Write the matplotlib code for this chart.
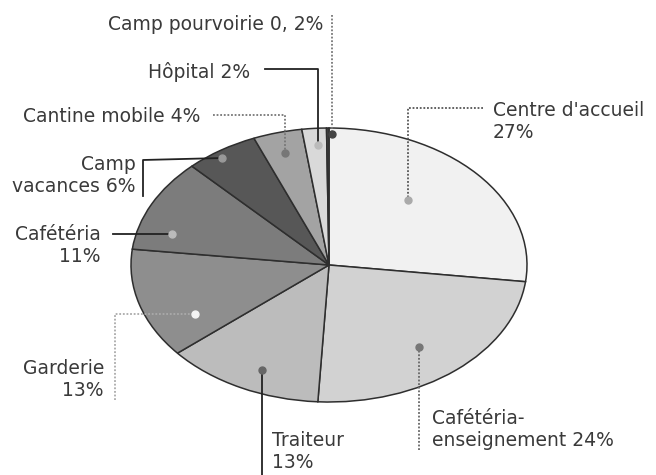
import matplotlib.pyplot as plt

labels = ["Centre d'accueil", "Cafétéria-enseignement", "Traiteur", "Garderie",
          "Cafétéria", "Camp vacances", "Cantine mobile", "Hôpital", "Camp pourvoirie"]
shares = [27, 24, 13, 13, 11, 6, 4, 2, 0.2]
colors = ["#f1f1f1", "#d2d2d2", "#bcbcbc", "#8e8e8e", "#7c7c7c",
          "#575757", "#a3a3a3", "#d9d9d9", "#444444"]

# ellipse geometry in pixels
CX, CY, RX, RY = 329, 265, 198, 137
W, H = 656, 475


def px(x, y):
    return (x - CX) / RX, (CY - y) / RY


fig = plt.figure(figsize=(W / 100, H / 100), dpi=100)
ax = fig.add_axes([0, 0, 1, 1])
ax.pie(shares, colors=colors, startangle=90, counterclock=False,
       wedgeprops=dict(edgecolor="#2e2e2e", linewidth=1.1))
ax.set_aspect("auto")
ax.set_xlim(-CX / RX, (W - CX) / RX)
ax.set_ylim(-(H - CY) / RY, CY / RY)
ax.axis("off")

font = dict(fontsize=13.5, color="#3a3a3a", family="DejaVu Sans")


def leader(points, color, ls, marker_color):
    xs, ys = zip(*[px(x, y) for x, y in points])
    ax.plot(xs, ys, color=color, lw=1.3, ls=ls, zorder=5)
    ax.plot(xs[-1], ys[-1], "o", ms=5, color=marker_color, zorder=6)


def label(x, y, s, ha):
    ax.text(*px(x, y), s, ha=ha, va="center", linespacing=1.2, **font)


# Camp pourvoirie
leader([(332, 15), (332, 134)], "#777777", (0, (1, 1)), "#444444")
label(323, 25, f"Camp pourvoirie {str(shares[8]).replace('.', ', ')}%", "right")
# Hôpital
leader([(265, 69), (318, 69), (318, 145)], "#222222", "-", "#bbbbbb")
label(250, 72, f"Hôpital {shares[7]}%", "right")
# Cantine mobile
leader([(213, 115), (285, 115), (285, 153)], "#777777", (0, (1, 1)), "#777777")
label(200, 117, f"Cantine mobile {shares[6]}%", "right")
# Camp vacances
leader([(143, 196), (143, 160), (222, 158)], "#222222", "-", "#999999")
label(136, 175, f"Camp\nvacances {shares[5]}%", "right")
# Cafétéria
leader([(113, 234), (172, 234)], "#222222", "-", "#bbbbbb")
label(101, 245, f"Cafétéria\n{shares[4]}%", "right")
# Garderie
leader([(115, 400), (115, 314), (195, 314)], "#aaaaaa", (0, (1, 1)), "#f4f4f4")
label(104, 380, f"Garderie\n{shares[3]}%", "right")
# Traiteur
leader([(262, 475), (262, 370)], "#222222", "-", "#666666")
label(272, 452, f"Traiteur\n{shares[2]}%", "left")
# Cafétéria-enseignement
leader([(419, 450), (419, 347)], "#666666", (0, (1, 1)), "#777777")
label(432, 430, f"Cafétéria-\nenseignement {shares[1]}%", "left")
# Centre d'accueil
leader([(483, 108), (408, 108), (408, 200)], "#555555", (0, (1, 1)), "#aaaaaa")
label(493, 122, f"Centre d'accueil\n{shares[0]}%", "left")

fig.savefig("out.png", dpi=100, facecolor="white")
